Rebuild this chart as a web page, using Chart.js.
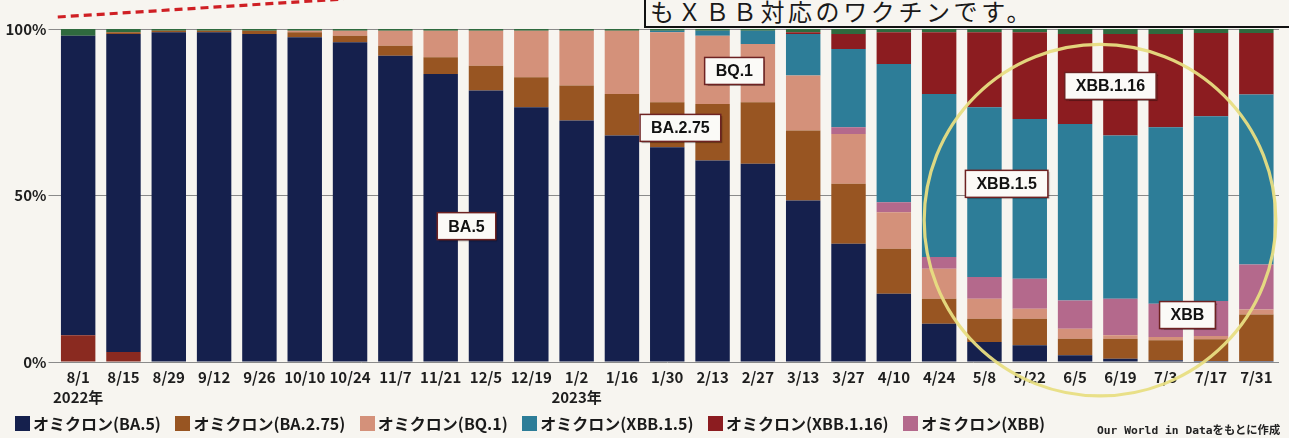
<!DOCTYPE html>
<html><head><meta charset="utf-8">
<script src="https://cdn.jsdelivr.net/npm/chart.js@4"></script>
<style>
html,body{margin:0;padding:0;background:#f7f5f0;}
#wrap{position:relative;width:1289px;height:438px;overflow:hidden;background:#f7f5f0;}
#c{position:absolute;left:0;top:0;}
#note{position:absolute;left:644px;top:-12px;width:700px;height:40px;border-left:2px solid #111;border-bottom:2px solid #111;background:#f7f5f0;font-family:'Noto Sans CJK JP',sans-serif;font-size:24px;line-height:24px;color:#1a1a1a;box-sizing:border-box;padding:11px 0 0 4px;letter-spacing:3.6px;white-space:nowrap;}
#legend{position:absolute;left:15px;top:413px;display:flex;gap:14.5px;font-family:'Noto Sans CJK JP',sans-serif;font-weight:bold;font-size:16px;color:#1a1a1a;line-height:20px;white-space:nowrap;}
.item{display:flex;align-items:center;}
.sw{width:15px;height:15px;margin-right:3px;}
#src{position:absolute;left:1097px;top:421px;font-family:'DejaVu Sans Mono','Noto Sans CJK JP',monospace;font-weight:bold;font-size:11.3px;color:#222;white-space:nowrap;}
</style></head>
<body>
<div id="wrap">
<canvas id="c" width="1289" height="438"></canvas>
<div id="note">もＸＢＢ対応のワクチンです。</div>
<div id="legend"></div>
<div id="src">Our World in Dataをもとに作成</div>
</div>
<script>
const categories = ['8/1','8/15','8/29','9/12','9/26','10/10','10/24','11/7','11/21','12/5','12/19','1/2','1/16','1/30','2/13','2/27','3/13','3/27','4/10','4/24','5/8','5/22','6/5','6/19','7/3','7/17','7/31'];
const tickLabels = [['8/1','2022年'],'8/15','8/29','9/12','9/26','10/10','10/24','11/7','11/21','12/5','12/19',['1/2','2023年'],'1/16','1/30','2/13','2/27','3/13','3/27','4/10','4/24','5/8','5/22','6/5','6/19','7/3','7/17','7/31'];
const yTicks = [0, 50, 100];

const otherBottom = [8, 3, 0, 0, 0, 0, 0, 0, 0, 0, 0, 0, 0, 0, 0, 0, 0, 0, 0, 0, 0, 0, 0, 0, 0, 0, 0];
const ba5     = [90, 95.5, 99, 99, 98.5, 97.5, 96, 92, 86.5, 81.5, 76.5, 72.5, 68, 64.5, 60.5, 59.5, 48.5, 35.5, 20.5, 11.5, 6, 5, 2, 1, 0.5, 0.3, 0.3];
const ba275   = [0, 0.5, 0.5, 0.5, 1, 1.5, 2, 3, 5, 7.5, 9, 10.5, 12.5, 13.5, 17, 18.5, 21, 18, 13.5, 7.5, 7, 8, 5, 6, 6, 6.5, 14];
const bq1     = [0, 0, 0, 0, 0, 0.5, 1.5, 4.5, 8, 10.5, 14, 16.5, 19, 21, 20.5, 17.5, 16.5, 15, 11, 9, 6, 3, 3, 1, 1, 1, 1.5];
const xbb     = [0, 0, 0, 0, 0, 0, 0, 0, 0, 0, 0, 0, 0, 0, 0, 0, 0, 2, 3, 3.5, 6.5, 9, 8.5, 11, 10, 10.5, 13.5];
const xbb15   = [0, 0, 0, 0, 0, 0, 0, 0, 0, 0, 0, 0, 0, 0.5, 1.5, 4, 12.5, 23.5, 41.5, 49, 51, 48, 53, 49, 53, 55.5, 51];
const xbb116  = [0, 0, 0, 0, 0, 0, 0, 0, 0, 0, 0, 0, 0, 0, 0, 0, 0.5, 4.5, 9.5, 18.5, 22.5, 26, 27, 30.5, 28, 25, 18.5];
const otherTop = [2, 1, 0.5, 0.5, 0.5, 0.5, 0.5, 0.5, 0.5, 0.5, 0.5, 0.5, 0.5, 0.5, 0.5, 0.5, 1, 1.5, 1, 1, 1, 1, 1.5, 1.5, 1.5, 1.2, 1.2];

const seriesNames = ['その他','オミクロン(BA.5)','オミクロン(BA.2.75)','オミクロン(BQ.1)','オミクロン(XBB)','オミクロン(XBB.1.5)','オミクロン(XBB.1.16)','その他 '];
const legendOrder = ['オミクロン(BA.5)','オミクロン(BA.2.75)','オミクロン(BQ.1)','オミクロン(XBB.1.5)','オミクロン(XBB.1.16)','オミクロン(XBB)'];

// label annotations: [text, category index, percent]
const labelText = ['BA.5','BA.2.75','BQ.1','XBB.1.5','XBB.1.16','XBB'];
const labelX = [8.57, 13.29, 14.48, 20.49, 22.78, 24.48];
const labelY = [40.8, 70.3, 87.4, 53.5, 82.9, 14.1];

const colors = {
  'その他':'#8a2a20',
  'オミクロン(BA.5)':'#15204d',
  'オミクロン(BA.2.75)':'#985522',
  'オミクロン(BQ.1)':'#d4917a',
  'オミクロン(XBB)':'#b4698c',
  'オミクロン(XBB.1.5)':'#2d7d98',
  'オミクロン(XBB.1.16)':'#8c1c20',
  'その他 ':'#2f6a3e'
};
const seriesData = [otherBottom, ba5, ba275, bq1, xbb, xbb15, xbb116, otherTop];

const datasets = seriesNames.map((n,i)=>({
  label:n, data:seriesData[i], backgroundColor:colors[n], borderWidth:0,
  barPercentage:0.76, categoryPercentage:1.0
}));

const FONT = "'Noto Sans CJK JP','Noto Sans',sans-serif";

const annoPlugin = {
  id:'anno',
  afterDraw(chart){
    const ctx = chart.ctx, xs = chart.scales.x, ys = chart.scales.y;
    const step = xs.getPixelForValue(1) - xs.getPixelForValue(0);
    ctx.save();
    // red dashed pointer line
    ctx.strokeStyle = '#cf1f24'; ctx.lineWidth = 3.2; ctx.setLineDash([8,5]);
    ctx.beginPath();
    ctx.moveTo(xs.getPixelForValue(-0.45), ys.getPixelForValue(103.6));
    ctx.lineTo(xs.getPixelForValue(5.85), ys.getPixelForValue(109));
    ctx.stroke();
    ctx.setLineDash([]);
    // yellow circle
    ctx.strokeStyle = 'rgba(232,222,130,0.95)'; ctx.lineWidth = 3.2;
    ctx.beginPath();
    ctx.arc(xs.getPixelForValue(22.55), ys.getPixelForValue(42.6), step*3.88, 0, Math.PI*2);
    ctx.stroke();
    // label boxes
    ctx.font = "bold 16px 'Liberation Sans', Arial, sans-serif";
    ctx.textAlign = 'center'; ctx.textBaseline = 'middle';
    labelText.forEach((t,i)=>{
      const cx = xs.getPixelForValue(labelX[i]), cy = ys.getPixelForValue(labelY[i]);
      const w = ctx.measureText(t).width + 22, h = 27;
      ctx.shadowColor = 'rgba(0,0,0,0.35)'; ctx.shadowOffsetX = 1.5; ctx.shadowOffsetY = 1.5; ctx.shadowBlur = 1;
      ctx.fillStyle = '#fbfaf7';
      ctx.fillRect(cx-w/2, cy-h/2, w, h);
      ctx.shadowColor = 'transparent';
      ctx.strokeStyle = '#6e2222'; ctx.lineWidth = 1.5;
      ctx.strokeRect(cx-w/2, cy-h/2, w, h);
      ctx.fillStyle = '#111';
      ctx.fillText(t, cx, cy+1);
    });
    ctx.restore();
  }
};

new Chart(document.getElementById('c'), {
  type:'bar',
  data:{labels:tickLabels, datasets},
  options:{
    responsive:false, animation:false,
    layout:{padding:{top:29, right:10, left:0, bottom:0}},
    plugins:{legend:{display:false}, tooltip:{enabled:false}},
    scales:{
      x:{
        stacked:true,
        grid:{display:false, drawTicks:false},
        border:{display:false},
        ticks:{autoSkip:false, maxRotation:0, minRotation:0, padding:6, color:'#1e1e1e',
               font:{family:FONT, size:15, weight:'bold', lineHeight:1.3}},
        afterFit(s){ s.height = 76; }
      },
      y:{
        stacked:true, min:0, max:100, z:1,
        afterBuildTicks(s){ s.ticks = yTicks.map(v=>({value:v})); },
        grid:{color:'#8a8a8a', lineWidth:1, tickLength:7, drawOnChartArea:true},
        border:{display:false},
        ticks:{padding:2, color:'#1e1e1e', font:{family:FONT, size:15, weight:'bold'},
               callback:v=>v+'%'},
        afterFit(s){ s.width = 55.5; }
      }
    }
  },
  plugins:[annoPlugin]
});

// HTML legend built from the dataset colours
const lg = document.getElementById('legend');
legendOrder.forEach(n=>{
  const it = document.createElement('div'); it.className='item';
  const sw = document.createElement('span'); sw.className='sw'; sw.style.background = colors[n];
  const tx = document.createElement('span'); tx.textContent = n;
  it.appendChild(sw); it.appendChild(tx); lg.appendChild(it);
});
</script>
</body></html>
